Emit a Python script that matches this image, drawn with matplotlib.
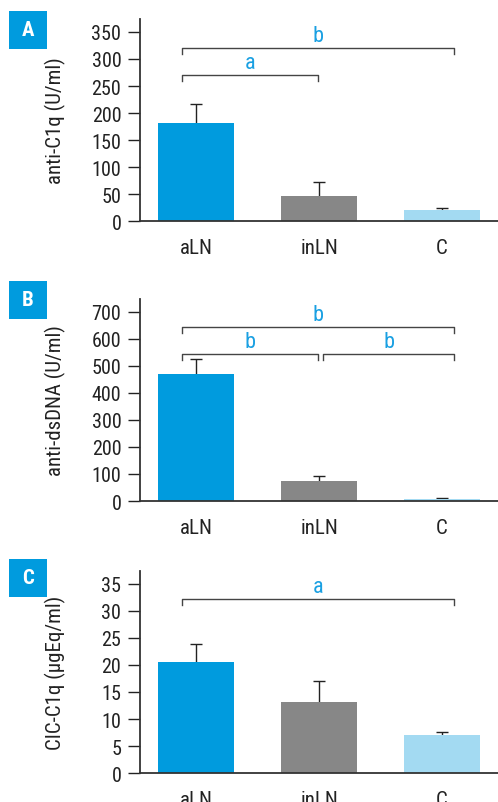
import matplotlib
matplotlib.use("Agg")
import matplotlib.pyplot as plt
from matplotlib.patches import Rectangle
from matplotlib import font_manager

# pick a narrow family if one is around
names = {f.name for f in font_manager.fontManager.ttflist}
family = 'Liberation Sans'
for cand in ['Liberation Sans Narrow', 'Roboto Condensed', 'DejaVu Sans Condensed', 'Open Sans Condensed']:
    if cand in names:
        family = cand
        break
plt.rcParams['font.family'] = [family, 'DejaVu Sans']

groups = ['aLN', 'inLN', 'C']
bar_colors = ['#009bde', '#878787', '#a3daf2']
text_blue = '#1aa0e2'

# panel A: anti-C1q
c1q_mean = [181, 46, 20]
c1q_err = [36, 27, 4]
c1q_ticks = [0, 50, 100, 150, 200, 250, 300, 350]
c1q_brackets = [(0, 1, 270, 'a'), (0, 2, 320, 'b')]

# panel B: anti-dsDNA
dna_mean = [468, 74, 7]
dna_err = [56, 19, 4]
dna_ticks = [0, 100, 200, 300, 400, 500, 600, 700]
dna_brackets = [(0, 1, 543, 'b'), (1, 2, 543, 'b'), (0, 2, 643, 'b')]

# panel C: CIC-C1q
cic_mean = [20.5, 13.1, 7.0]
cic_err = [3.4, 3.9, 0.6]
cic_ticks = [0, 5, 10, 15, 20, 25, 30, 35]
cic_brackets = [(0, 2, 32.2, 'a')]

panels = [
    ('A', c1q_mean, c1q_err, c1q_ticks, c1q_brackets, 'anti-C1q (U/ml)', 374, 0.7235),
    ('B', dna_mean, dna_err, dna_ticks, dna_brackets, 'anti-dsDNA (U/ml)', 747, 0.3748),
    ('C', cic_mean, cic_err, cic_ticks, cic_brackets, 'CIC-C1q (\u00b5gEq/ml)', 37.4, 0.0361),
]

narrow = family != 'Liberation Sans'
fs_tick = 14.5 if narrow else 12.5
fs_x = 15 if narrow else 12.5
fs_ylab = 15 if narrow else 12.5
fs_sig = 16 if narrow else 13.5

W, H = 498, 803
fig = plt.figure(figsize=(W / 100, H / 100), dpi=100)

label_tops = [12, 282, 560]

for (letter, mean, err, ticks, brackets, ylabel, ytop, bottom), ltop in zip(panels, label_tops):
    ax = fig.add_axes([140 / W, bottom, 358 / W, 202 / H])
    x = range(len(groups))
    ax.bar(x, mean, width=0.62, color=bar_colors, zorder=2)
    _, caps, _ = ax.errorbar(x, mean, yerr=[[0] * len(err), err], fmt='none',
                             ecolor='#222222', elinewidth=1.0, capsize=4.3,
                             capthick=1.0, zorder=1)
    caps[0].set_visible(False)  # only the upper cap
    ax.set_xlim(-0.455, 2.455)
    ax.set_ylim(0, ytop)
    ax.set_yticks(ticks)
    ax.set_xticks(list(x))
    ax.set_xticklabels(groups, fontsize=fs_x, color='#222222')
    ax.tick_params(axis='x', length=0, pad=12)
    ax.tick_params(axis='y', length=8.5, width=1, pad=5, labelsize=fs_tick, colors='#222222')
    for s in ['top', 'right']:
        ax.spines[s].set_visible(False)
    for s in ['left', 'bottom']:
        ax.spines[s].set_linewidth(1.3)
        ax.spines[s].set_color('#333333')
    ax.set_ylabel(ylabel, fontsize=fs_ylab, color='#222222')
    ax.yaxis.set_label_coords(-0.207, 0.5)

    drop = ytop * 0.03
    for i, j, h, txt in brackets:
        x0 = i - 0.11 if i == 0 else i + 0.03
        x1 = j + 0.1 if j == 2 else j - 0.01
        ax.plot([x0, x0, x1, x1], [h - drop, h, h, h - drop], color='#444444',
                lw=1.0, clip_on=False, zorder=3)
        ax.text((x0 + x1) / 2, h + ytop * 0.01, txt, ha='center', va='bottom',
                fontsize=fs_sig, color=text_blue)

    fig.add_artist(Rectangle((9 / W, 1 - (ltop + 38) / H), 38 / W, 38 / H,
                             transform=fig.transFigure, color='#009bde', lw=0))
    fig.text(28 / W, 1 - (ltop + 19) / H, letter, ha='center', va='center',
             fontsize=15, fontweight='bold', color='white')

fig.savefig('out.png', dpi=100)
